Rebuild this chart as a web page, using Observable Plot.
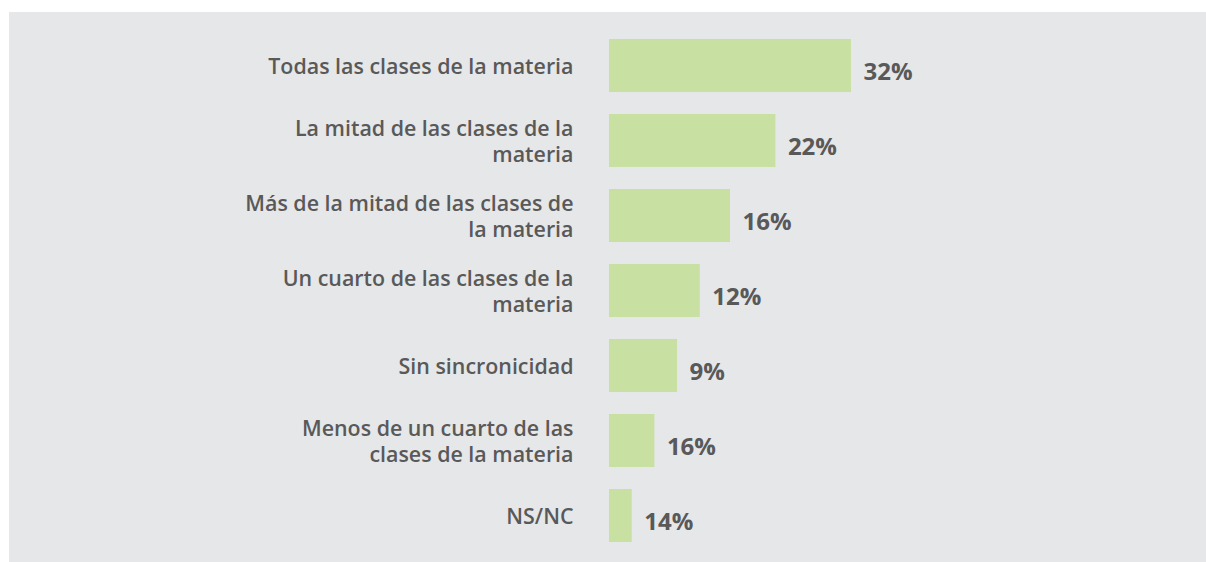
<!DOCTYPE html>
<html>
<head>
<meta charset="utf-8">
<script src="https://cdn.jsdelivr.net/npm/d3@7"></script>
<script src="https://cdn.jsdelivr.net/npm/@observablehq/plot@0.6"></script>
<style>
  html, body { margin: 0; padding: 0; background: #ffffff; }
  #chart { position: absolute; left: 9px; top: 12px; width: 1197px; height: 550px; background: #e6e7e9; }
  #chart svg { display: block; }
</style>
</head>
<body>
<div id="chart"></div>
<script>
// Categories (top to bottom), with line breaks as in the reference
const categories = [
  "Todas las clases de la materia",
  "La mitad de las clases de la\nmateria",
  "Más de la mitad de las clases de\nla materia",
  "Un cuarto de las clases de la\nmateria",
  "Sin sincronicidad",
  "Menos de un cuarto de las\nclases de la materia",
  "NS/NC"
];
// Bar lengths as drawn (percent)
const values = [32, 22, 16, 12, 9, 6, 3];
// Value labels as printed
const valueLabels = ["32%", "22%", "16%", "12%", "9%", "16%", "14%"];

const data = categories.map((c, i) => ({category: c, value: values[i], label: valueLabels[i]}));

const textColor = "#595959";

const plot = Plot.plot({
  width: 1197,
  height: 550,
  marginLeft: 600,
  marginRight: 294.5,
  marginTop: 12,
  marginBottom: 5.5,
  style: {background: "transparent", fontFamily: "'Open Sans', sans-serif"},
  x: {domain: [0, 40], axis: null},
  y: {domain: categories, axis: null, paddingInner: 0.3, paddingOuter: 0.2},
  marks: [
    Plot.barX(data, {x: "value", y: "category", fill: "#c9e0a3"}),
    Plot.text(data, {
      x: 0, y: "category", text: "category",
      textAnchor: "end", dx: -36, dy: 0, fontSize: 21.4, fontWeight: 600,
      lineHeight: 1.22, fill: textColor
    }),
    Plot.text(data, {
      x: "value", y: "category", text: "label",
      textAnchor: "start", dx: 12, dy: 6, fontSize: 24, fontWeight: 700,
      fill: textColor
    })
  ]
});
document.getElementById("chart").appendChild(plot);
</script>
</body>
</html>
